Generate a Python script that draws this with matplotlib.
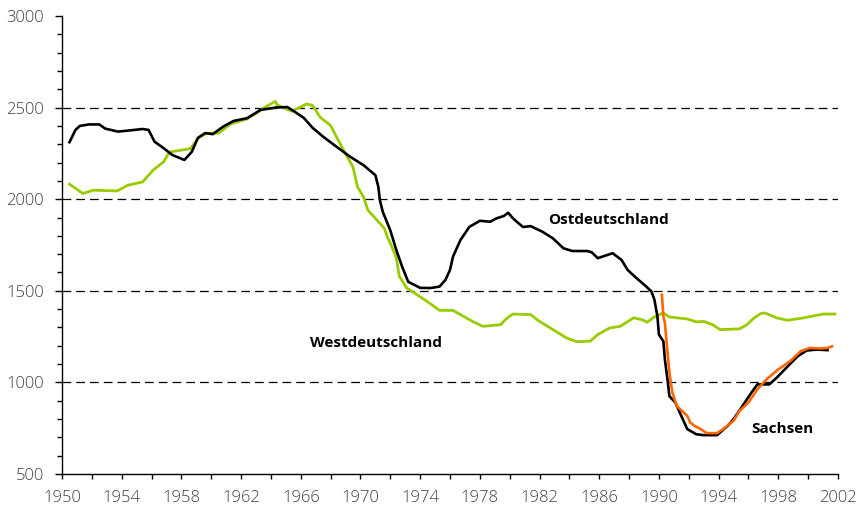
import matplotlib.pyplot as plt
from matplotlib.ticker import FixedLocator

plt.rcParams['font.family'] = ['Open Sans', 'DejaVu Sans']

# Ostdeutschland (black)
ost_years = [1950.5, 1950.9, 1951.2, 1951.8, 1952.5, 1952.9, 1953.75, 1954.5, 1955.4, 1955.8,
             1956.2, 1956.8, 1957.4, 1958.2, 1958.7, 1959.1, 1959.6, 1960.1, 1960.8, 1961.5,
             1962.4, 1963.3, 1964.3, 1965.1, 1965.5, 1966.2, 1966.8, 1967.5, 1968.4, 1969.3,
             1970.2, 1971.0, 1971.2, 1971.3, 1971.5, 1972.0, 1972.4, 1972.8, 1973.2, 1974.0,
             1974.7, 1975.3, 1975.7, 1976.0, 1976.2, 1976.7, 1977.3, 1978.0, 1978.7, 1979.1,
             1979.6, 1979.9, 1980.2, 1980.6, 1980.9, 1981.4, 1982.2, 1982.9, 1983.6, 1984.2,
             1985.2, 1985.5, 1985.9, 1986.9, 1987.5, 1987.9, 1988.5, 1989.1, 1989.5, 1989.7,
             1989.9, 1990.0, 1990.3, 1990.4, 1990.6, 1990.7, 1991.1, 1991.5, 1991.9, 1992.5,
             1993.0, 1993.9, 1994.6, 1995.0, 1995.6, 1996.2, 1996.6, 1997.4, 1997.9, 1998.6,
             1999.3, 1999.9, 2000.6, 2001.3]
ost_values = [2311, 2378, 2400, 2408, 2408, 2385, 2369, 2375, 2383, 2378,
              2314, 2279, 2241, 2214, 2259, 2334, 2361, 2355, 2396, 2427,
              2442, 2487, 2500, 2503, 2482, 2444, 2389, 2341, 2286, 2232,
              2186, 2131, 2067, 1995, 1930, 1830, 1723, 1630, 1549, 1516,
              1515, 1523, 1560, 1614, 1686, 1777, 1849, 1882, 1877, 1895,
              1908, 1926, 1897, 1868, 1848, 1853, 1822, 1786, 1732, 1717,
              1717, 1710, 1678, 1705, 1668, 1614, 1569, 1527, 1496, 1451,
              1360, 1261, 1224, 1125, 1000, 925, 890, 817, 745, 717,
              712, 712, 762, 799, 871, 944, 989, 989, 1026, 1085,
              1143, 1174, 1179, 1176]

# Westdeutschland (green)
west_years = [1950.5, 1951.4, 1952.1, 1953.7, 1954.4, 1955.4, 1956.1, 1956.8, 1957.2, 1958.6,
              1959.2, 1959.7, 1960.5, 1961.3, 1962.4, 1963.1, 1963.6, 1964.3, 1964.4, 1965.4,
              1966.4, 1966.8, 1967.3, 1968.0, 1968.4, 1969.0, 1969.5, 1969.8, 1970.2, 1970.5,
              1971.1, 1971.6, 1971.8, 1972.0, 1972.4, 1972.6, 1973.1, 1973.8, 1974.5, 1975.1,
              1975.3, 1976.2, 1976.7, 1977.5, 1978.2, 1979.4, 1979.7, 1980.2, 1981.4, 1982.0,
              1982.9, 1983.8, 1984.5, 1985.4, 1985.9, 1986.7, 1987.4, 1988.3, 1988.9, 1989.2,
              1989.7, 1990.3, 1990.7, 1991.9, 1992.5, 1993.0, 1993.6, 1994.1, 1995.4, 1995.9,
              1996.3, 1996.8, 1997.1, 1997.9, 1998.6, 1999.7, 2001.0, 2001.8]
west_values = [2082, 2031, 2049, 2045, 2076, 2094, 2158, 2203, 2257, 2276,
               2339, 2360, 2360, 2411, 2438, 2474, 2502, 2534, 2515, 2480,
               2520, 2511, 2447, 2402, 2339, 2248, 2175, 2067, 2013, 1940,
               1886, 1841, 1795, 1760, 1680, 1580, 1515, 1478, 1440, 1405,
               1393, 1393, 1370, 1333, 1306, 1315, 1342, 1373, 1370, 1333,
               1288, 1243, 1222, 1225, 1261, 1297, 1306, 1352, 1342, 1328,
               1357, 1379, 1357, 1346, 1330, 1333, 1315, 1288, 1292, 1315,
               1346, 1375, 1379, 1352, 1339, 1352, 1373, 1373]

# Sachsen (orange)
sachsen_years = [1990.2, 1990.3, 1990.4, 1990.5, 1990.7, 1990.9, 1991.2, 1991.9, 1992.1, 1992.4,
                 1992.8, 1993.2, 1993.9, 1994.3, 1995.0, 1995.4, 1996.0, 1996.6, 1997.2, 1998.0,
                 1998.8, 1999.5, 2000.1, 2000.8, 2001.3, 2001.6]
sachsen_values = [1478, 1360, 1326, 1234, 1054, 945, 871, 817, 781, 762,
                  745, 723, 723, 745, 790, 844, 890, 962, 1016, 1071,
                  1116, 1170, 1188, 1185, 1188, 1197]

x_ticks = list(range(1950, 2003, 4))
x_minor = list(range(1950, 2003, 2))
y_ticks = [500, 1000, 1500, 2000, 2500, 3000]
y_minor = list(range(500, 3001, 100))
grid_levels = [1000, 1500, 2000, 2500]

fig = plt.figure(figsize=(8.6, 5.09), dpi=100)
ax = fig.add_axes([0.0721, 0.0688, 0.9023, 0.8998])

# dashed reference lines
for v in grid_levels:
    ax.axhline(v, color='black', lw=0.9, dashes=(7, 4), zorder=1)

ax.plot(west_years, west_values, color='#99cc00', lw=2.0, zorder=3)
ax.plot(ost_years, ost_values, color='black', lw=1.9, zorder=4)
ax.plot(sachsen_years, sachsen_values, color='#ff6600', lw=1.9, zorder=5)

ax.text(1982.6, 1886, 'Ostdeutschland', fontsize=11, fontweight='bold', va='center')
ax.text(1966.6, 1217, 'Westdeutschland', fontsize=11, fontweight='bold', va='center')
ax.text(1996.2, 745, 'Sachsen', fontsize=11, fontweight='bold', va='center')

ax.set_xlim(1950, 2002)
ax.set_ylim(500, 3000)
ax.xaxis.set_major_locator(FixedLocator(x_ticks))
ax.xaxis.set_minor_locator(FixedLocator(x_minor))
ax.yaxis.set_major_locator(FixedLocator(y_ticks))
ax.yaxis.set_minor_locator(FixedLocator(y_minor))

for side in ['top', 'right']:
    ax.spines[side].set_visible(False)
for side in ['left', 'bottom']:
    ax.spines[side].set_linewidth(1.0)

ax.tick_params(which='both', direction='out', length=3.6, width=1.0, colors='black',
               labelcolor='#404040', labelsize=12)
ax.tick_params(axis='y', which='major', length=5, pad=8)
ax.tick_params(axis='x', which='major', pad=8)
for lbl in ax.get_xticklabels() + ax.get_yticklabels():
    lbl.set_fontweight('light')

plt.savefig('out.png', dpi=100)
